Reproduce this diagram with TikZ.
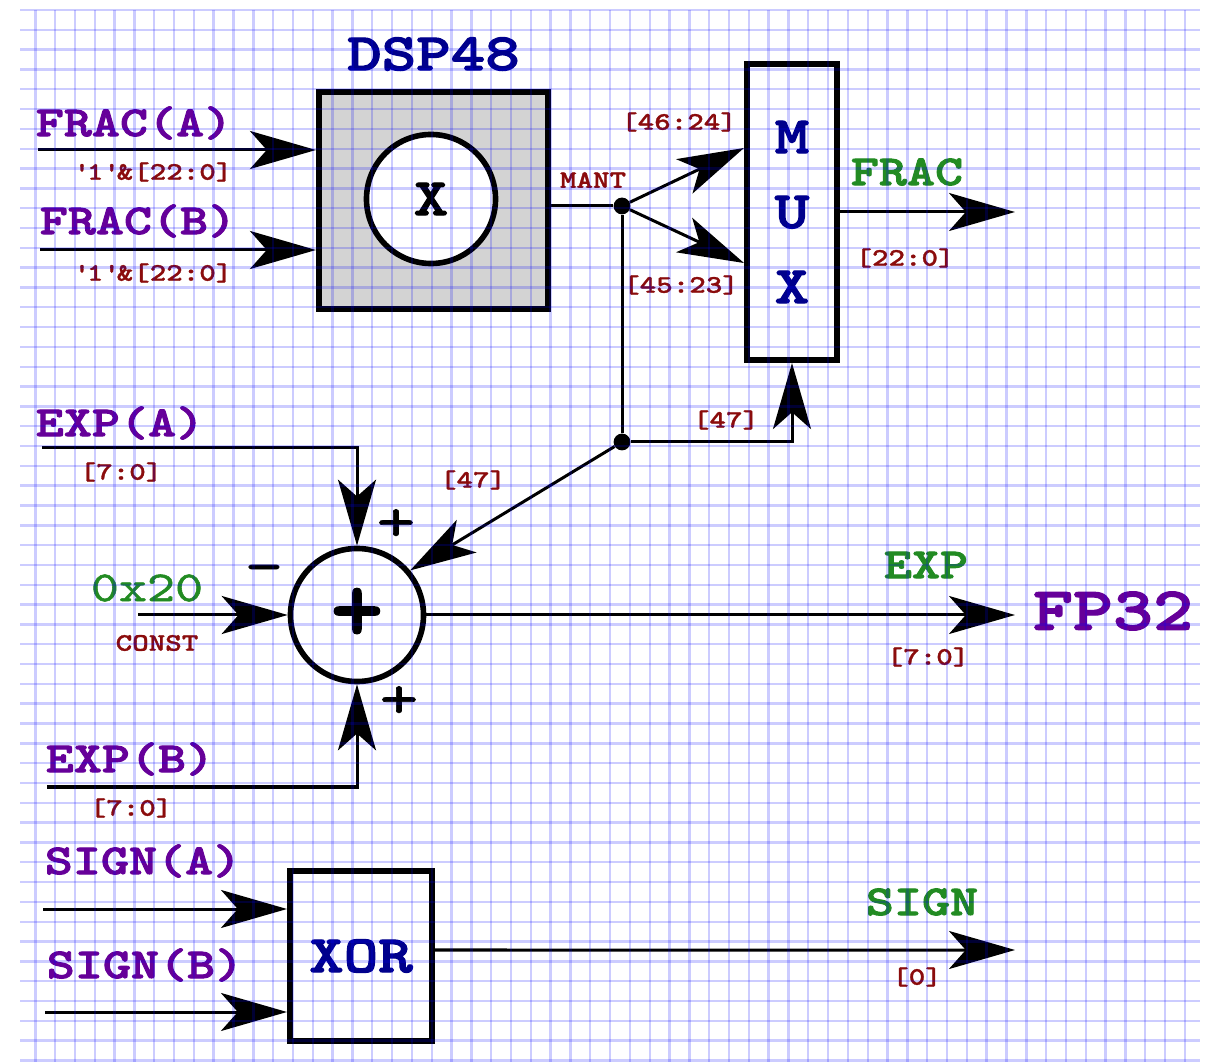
\documentclass[tikz,border=0pt]{standalone}
\usepackage{fontspec}
\usepackage{xcolor}
\usepackage{tikz}
\usetikzlibrary{positioning, shapes.geometric, arrows.meta}
\newfontfamily\diafont[FakeStretch=1.25, FakeBold=2.2]{lmmonolt10-bold.otf}
\newfontfamily\diafontsm[FakeStretch=1.25, FakeBold=1.2]{lmmonolt10-bold.otf}
\newfontfamily\diafontlt[FakeStretch=1.25, FakeBold=1.2]{lmmono10-regular.otf}
\newfontfamily\plusfont[FakeBold=1.5]{lmmonolt10-bold.otf}
\definecolor{sigpurple}{RGB}{102,0,153}
\definecolor{busred}{RGB}{139,12,12}
\definecolor{outgreen}{RGB}{34,139,34}
\definecolor{blknavy}{RGB}{0,0,140}
\definecolor{dspgray}{RGB}{211,211,211}
\tikzset{
  block/.style={rectangle, draw=black, line width=0.15cm, inner sep=0, align=center, text=blknavy, font=\diafont\fontsize{37.4}{53.3}\selectfont},
  opcircle/.style={circle, draw=black, fill=white, line width=0.14cm, inner sep=0},
  joint/.style={circle, fill=black, inner sep=0, minimum size=0.42cm},
  wire/.style={line width=0.075cm},
  arrow/.style={wire, -{Stealth[length=1.65cm, width=0.95cm, inset=0.42cm]}},
  siglabel/.style={inner sep=0, text=sigpurple, font=\diafont\fontsize{30.4}{32}\selectfont},
  buslabel/.style={inner sep=0, text=busred, font=\diafontsm\fontsize{17.9}{19}\selectfont},
  outlabel/.style={inner sep=0, text=outgreen, font=\diafont\fontsize{30.4}{32}\selectfont},
  blocklabel/.style={inner sep=0, text=blknavy, font=\diafont\fontsize{37.4}{40}\selectfont},
  signmark/.style={inner sep=0, text=black, font=\diafontlt\fontsize{42}{44}\selectfont},
  gridline/.style={draw=blue, opacity=0.2, line width=0.06cm},
}

\begin{document}
\begin{tikzpicture}[x=0.025cm, y=-0.025cm]
          \useasboundingbox (0,0) rectangle (1212,1062);
          \fill[white] (0,0) rectangle (1212,1062);

          \node[block, fill=dspgray, minimum width=5.725cm, minimum height=5.425cm] (dsp) at (433.5,200.5) {};

          \node[opcircle, minimum size=3.225cm, font=\diafont\fontsize{37.4}{40}\selectfont] (mult) at (431,199) {X};

          \node[blocklabel, above=0.45cm of dsp] (dsptitle) {DSP48};

          \node[block, fill=white, minimum width=2.25cm, minimum height=7.4cm] (mux) at (792,212) {M\\U\\X};

          \node[opcircle, minimum size=3.325cm, font=\plusfont\fontsize{71}{71}\selectfont] (adder) at (357,615) {+};

          \node[block, fill=white, minimum width=3.55cm, minimum height=4.25cm] (xor) at (361,956) {XOR};

          \node[joint] (junc) at (622,206) {};
          \node[joint] (tap) at (622,442) {};

          \coordinate (fracAin) at (38,150);
          \coordinate (fracBin) at (40,250);
          \coordinate (fracend) at (1015,212);
          \coordinate (expAin) at (42,448);
          \coordinate (constin) at (138,615);
          \coordinate (expBin) at (47,787);
          \coordinate (expend) at (1015,615);
          \coordinate (signAin) at (43,909);
          \coordinate (signBin) at (45,1012);
          \coordinate (signend) at (1015,950);

          \node[siglabel] (fracA) at (134,123) {FRAC(A)};
          \node[buslabel] (fracAbus) at (153,172) {\textquotesingle1\textquotesingle\&[22:0]};
          \node[siglabel] (fracB) at (138,221) {FRAC(B)};
          \node[buslabel] (fracBbus) at (153,273) {\textquotesingle1\textquotesingle\&[22:0]};
          \node[buslabel] (mant) at (593,180) {MANT};
          \node[buslabel] (hibits) at (679,122) {[46:24]};
          \node[buslabel] (lobits) at (681,285) {[45:23]};
          \node[outlabel] (fracout) at (907,172) {FRAC};
          \node[buslabel] (fracbus) at (905,258) {[22:0]};
          \node[buslabel] (selbit) at (726,420) {[47]};
          \node[buslabel] (carrybit) at (473,480) {[47]};

          \node[siglabel] (expA) at (120,423) {EXP(A)};
          \node[buslabel] (expAbus) at (121,472) {[7:0]};
          \node[outlabel, font=\diafontlt\fontsize{30.4}{32}\selectfont] (const) at (147,588) {0x20};
          \node[buslabel] (constlbl) at (157,643) {CONST};
          \node[siglabel] (expB) at (130,759) {EXP(B)};
          \node[buslabel] (expBbus) at (131,808) {[7:0]};
          \node[signmark] (plusA) at (396,525) {+};
          \node[signmark] (minus) at (264,575) {-};
          \node[signmark] (plusB) at (399,702) {+};
          \node[outlabel] (expout) at (926,565) {EXP};
          \node[buslabel] (expbus) at (928,657) {[7:0]};
          \node[siglabel, font=\diafont\fontsize{43.4}{46}\selectfont] (fp32) at (1113,611) {FP32};

          \node[siglabel] (signA) at (143,861) {SIGN(A)};
          \node[siglabel] (signB) at (145,965) {SIGN(B)};
          \node[outlabel] (signout) at (922,902) {SIGN};
          \node[buslabel] (signbus) at (917,977) {[0]};

          \draw[arrow] (fracAin) -- (fracAin -| dsp.west);
          \draw[arrow] (fracBin) -- (fracBin -| dsp.west);
          \draw[wire] (dsp.east |- junc) -- (junc);
          \draw[arrow] (junc) -- ([yshift=1.6cm]mux.west);
          \draw[arrow] (junc) -- ([yshift=-1.275cm]mux.west);
          \draw[arrow] (mux.east) -- (fracend);
          \draw[wire] (junc) -- (tap);
          \draw[arrow] (tap) -| (mux.south);
          \draw[arrow] (tap) -- (adder.40);
          \draw[arrow] (expAin) -| (adder.north);
          \draw[arrow] (constin) -- (adder.west);
          \draw[arrow] (expBin) -| (adder.south);
          \draw[arrow] (adder.east) -- (expend);
          \draw[arrow] (signAin) -- (signAin -| xor.west);
          \draw[arrow] (signBin) -- (signBin -| xor.west);
          \draw[arrow] ([yshift=0.15cm]xor.east) -- (signend);

          \foreach \k in {0,...,58}
            \draw[gridline] ({35.3+19.82*\k},10) -- ({35.3+19.82*\k},1062);
          \foreach \k in {0,...,53}
            \draw[gridline] (20,{10+19.82*\k}) -- (1200,{10+19.82*\k});
        \end{tikzpicture}
\end{document}
